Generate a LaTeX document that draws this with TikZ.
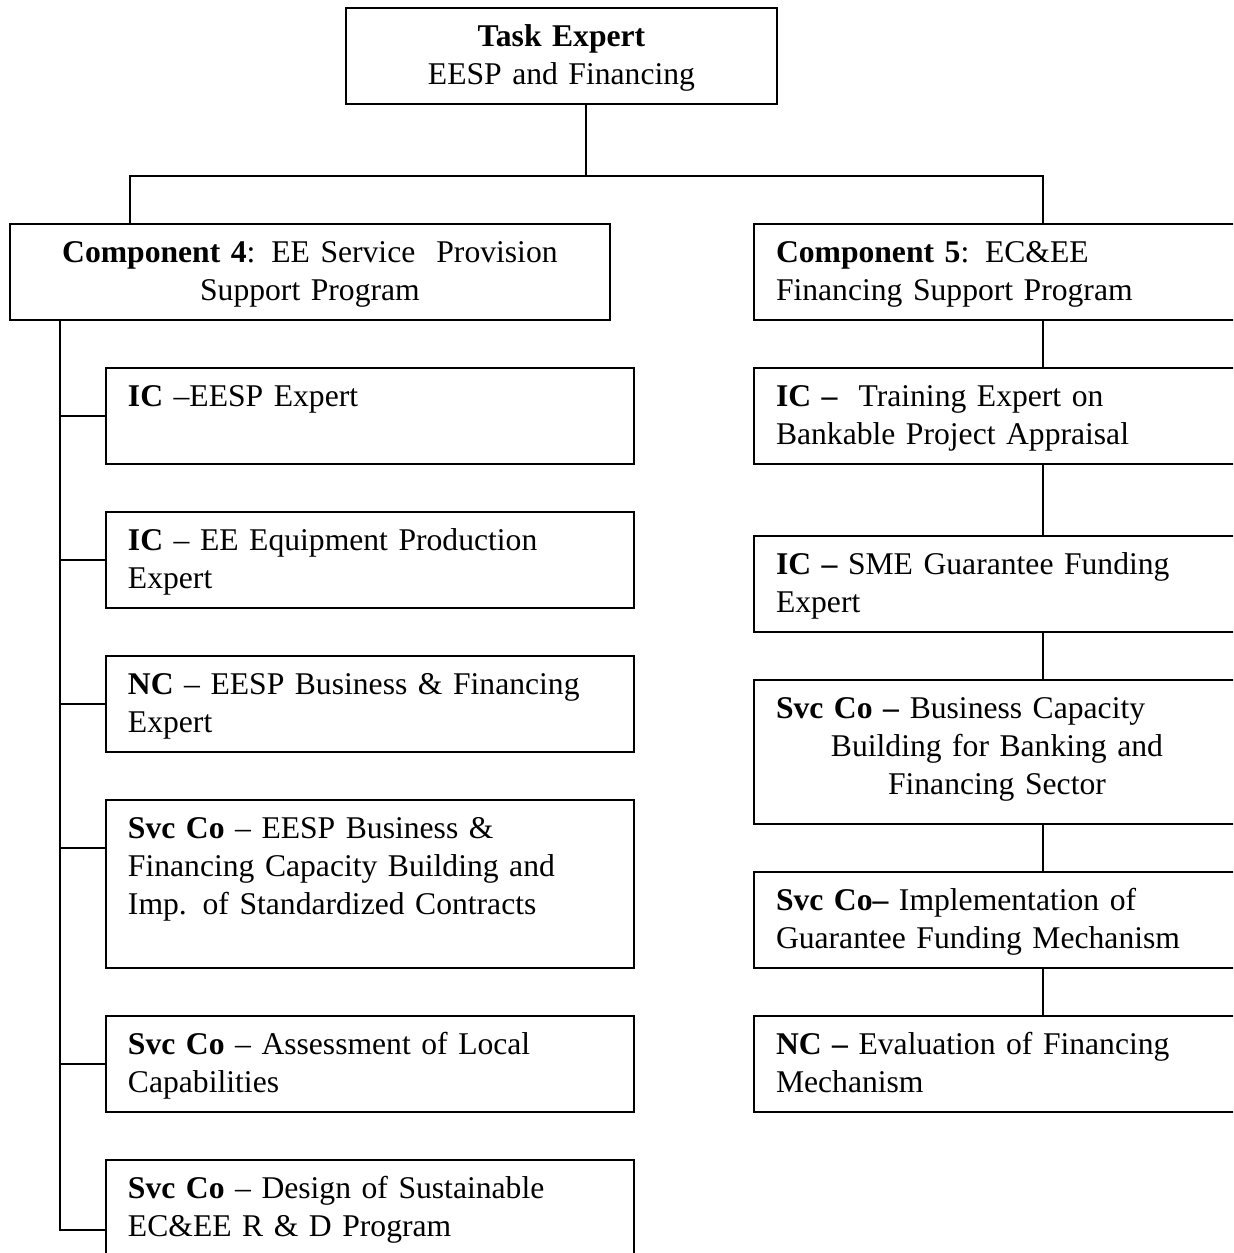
\documentclass[tikz,border=0pt]{standalone}
\usepackage{fontspec}
\setmainfont{Liberation Serif}
\usetikzlibrary{positioning}

\begin{document}
\begin{tikzpicture}[x=0.02cm,y=-0.02cm,line width=1.1pt,
    every node/.style={font=\fontsize{18}{21.6}\selectfont},
    box/.style={draw, rectangle, anchor=north west, inner xsep=0.44cm, inner ysep=0pt, outer sep=0pt,
                text height=0.78cm, text depth=1.14cm, align=left},
    lbox/.style={box, text width=9.68cm},
    rbox/.style={box, text width=8.84cm},
    node distance=0.96cm]
    \path[use as bounding box, clip] (0,0) rectangle (1233,1253);

    \node (task) [box, text width=7.74cm, align=center] at (346,8) {\textbf{Task Expert}\\EESP and Financing};
    \node (c4) [box, text width=11.12cm, align=center] at (10,224) {\textbf{Component 4}: EE Service\ \ Provision\\Support Program};
    \node (c5) [rbox] at (754,224) {\textbf{Component 5}: EC\&EE\\Financing Support Program};

    % left column
    \node (ic1) [lbox] at (106,368) {\textbf{IC} –EESP Expert};
    \node (ic2) [lbox, below=of ic1] {\textbf{IC} – EE Equipment Production\\Expert};
    \node (nc1) [lbox, below=of ic2] {\textbf{NC} – EESP Business \& Financing\\Expert};
    \node (sc1) [lbox, text depth=2.58cm, below=of nc1] {\textbf{Svc Co} – EESP Business \&\\Financing Capacity Building and\\Imp. of Standardized Contracts};
    \node (sc2) [lbox, below=of sc1] {\textbf{Svc Co} – Assessment of Local\\Capabilities};
    \node (sc3) [lbox, text depth=1.22cm, below=of sc2] {\textbf{Svc Co} – Design of Sustainable\\EC\&EE R \& D Program};

    % right column
    \node (ic3) [rbox] at (754,368) {\textbf{IC –}\ \ Training Expert on\\Bankable Project Appraisal};
    \node (ic4) [rbox, below=1.44cm of ic3] {\textbf{IC –} SME Guarantee Funding\\Expert};
    \node (sc4) [rbox, text depth=2.1cm, align=center, below=of ic4] {\makebox[\linewidth][l]{\textbf{Svc Co –} Business Capacity}\\Building for Banking and\\Financing Sector};
    \node (sc5) [rbox, below=of sc4] {\textbf{Svc Co–} Implementation of\\Guarantee Funding Mechanism};
    \node (nc2) [rbox, below=of sc5] {\textbf{NC –} Evaluation of Financing\\Mechanism};

    \coordinate (tj) at ([xshift=4.8cm]task.south west);
    \coordinate (split) at ([yshift=-1.44cm]tj);
    \coordinate (lj) at ([xshift=2.4cm]c4.north west);
    \coordinate (rj) at ([xshift=5.78cm]c5.north west);
    \coordinate (trunk) at ([xshift=1cm]c4.south west);
    \coordinate (sc1w) at ([yshift=-0.96cm]sc1.north west);
    \coordinate (sc3w) at ([yshift=-1.4cm]sc3.north west);

    \draw (tj) -- (split);
    \draw (lj) |- (split) -| (rj);
    \draw (trunk) |- (sc3w);
    \foreach \b in {ic1,ic2,nc1,sc2}
        \draw (\b.west) -- (\b.west -| trunk);
    \draw (sc1w) -- (sc1w -| trunk);
    \foreach \a/\b in {c5/ic3,ic3/ic4,ic4/sc4,sc4/sc5,sc5/nc2}
        \draw (\a.south -| rj) -- (\b.north -| rj);
\end{tikzpicture}
\end{document}
